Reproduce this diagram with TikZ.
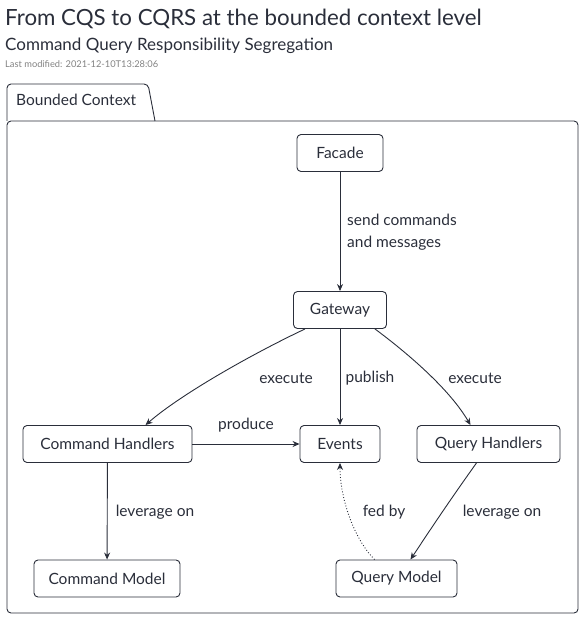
\documentclass[tikz,border=0pt]{standalone}
\usepackage{fontspec}
\setmainfont{Lato}
\usetikzlibrary{arrows.meta}
\definecolor{ink}{RGB}{42,46,58}
\definecolor{meta}{RGB}{130,130,130}
\begin{document}
\begin{tikzpicture}[x=1pt,y=-1pt,
  ink/.style={draw=ink,line width=0.9pt},
  box/.style={ink,rounded corners=4pt,fill=white,minimum height=37pt,inner xsep=0pt,font=\fontsize{15.5}{18}\selectfont,text=ink},
  lbl/.style={font=\fontsize{15.5}{22}\selectfont,text=ink,align=left,inner sep=0pt},
  arr/.style={ink,-{Stealth[length=7pt,width=6pt]}},
]
\useasboundingbox (0,0) rectangle (584,620);
% header
\node[anchor=base west,inner sep=0pt,font=\fontsize{22.3}{26}\selectfont,text=ink] (title) at (5,26) {From CQS to CQRS at the bounded context level};
\node[anchor=base west,inner sep=0pt,font=\fontsize{17}{20}\selectfont,text=ink] (sub) at (5,51) {Command Query Responsibility Segregation};
\node[anchor=base west,inner sep=0pt,font=\fontsize{9.3}{11}\selectfont,text=meta] (mod) at (5,68) {Last modified: 2021-12-10T13:28:06};
% frame
\draw[ink,rounded corners=4pt] (7,121) -- (7,613) -- (578,613) -- (578,121) -- cycle;
\draw[ink,rounded corners=4pt] (7,121) -- (7,84) -- (148,84) -- (155,121);
\node[anchor=base west,inner sep=0pt,font=\fontsize{15.5}{18}\selectfont,text=ink] (bc) at (16,106) {Bounded Context};
% nodes
\node[box,minimum width=86pt] (facade) at (340,153) {Facade};
\node[box,minimum width=93pt] (gateway) at (340,310) {Gateway};
\node[box,minimum width=169pt] (ch) at (107.5,444) {Command Handlers};
\node[box,minimum width=80pt] (events) at (340,444) {Events};
\node[box,minimum width=143pt] (qh) at (488.5,444) {Query Handlers};
\node[box,minimum width=146pt] (cm) at (107,578.5) {Command Model};
\node[box,minimum width=121pt] (qm) at (396.5,578.5) {Query Model};
% edges
\draw[arr] (facade) -- (gateway);
\node[lbl,anchor=west] (l1) at (347,232) {send commands\\and messages};
\draw[arr] ([xshift=12pt]gateway.south west) .. controls (250,355) and (180,395) .. ([xshift=38pt]ch.north);
\draw[arr] (gateway) -- (events);
\draw[arr] ([xshift=-12pt]gateway.south east) .. controls (410,355) and (450,390) .. ([xshift=-18pt]qh.north);
\draw[arr] (ch) -- (events);
\draw[arr] (ch) -- (cm);
\draw[arr] ([xshift=-12pt]qh.south) .. controls (450,500) and (430,530) .. ([xshift=14pt]qm.north);
\draw[ink,dotted,-{Stealth[length=7pt,width=6pt]}] ([xshift=-22pt]qm.north) .. controls (355,540) and (340,500) .. (events.south);
\node[lbl] (e1) at (286,378) {execute};
\node[lbl] (p1) at (370,378) {publish};
\node[lbl] (e2) at (475,378) {execute};
\node[lbl] (pr) at (246,425) {produce};
\node[lbl] (lv1) at (155,512) {leverage on};
\node[lbl] (fb) at (384,512) {fed by};
\node[lbl] (lv2) at (502,512) {leverage on};
\end{tikzpicture}
\end{document}
